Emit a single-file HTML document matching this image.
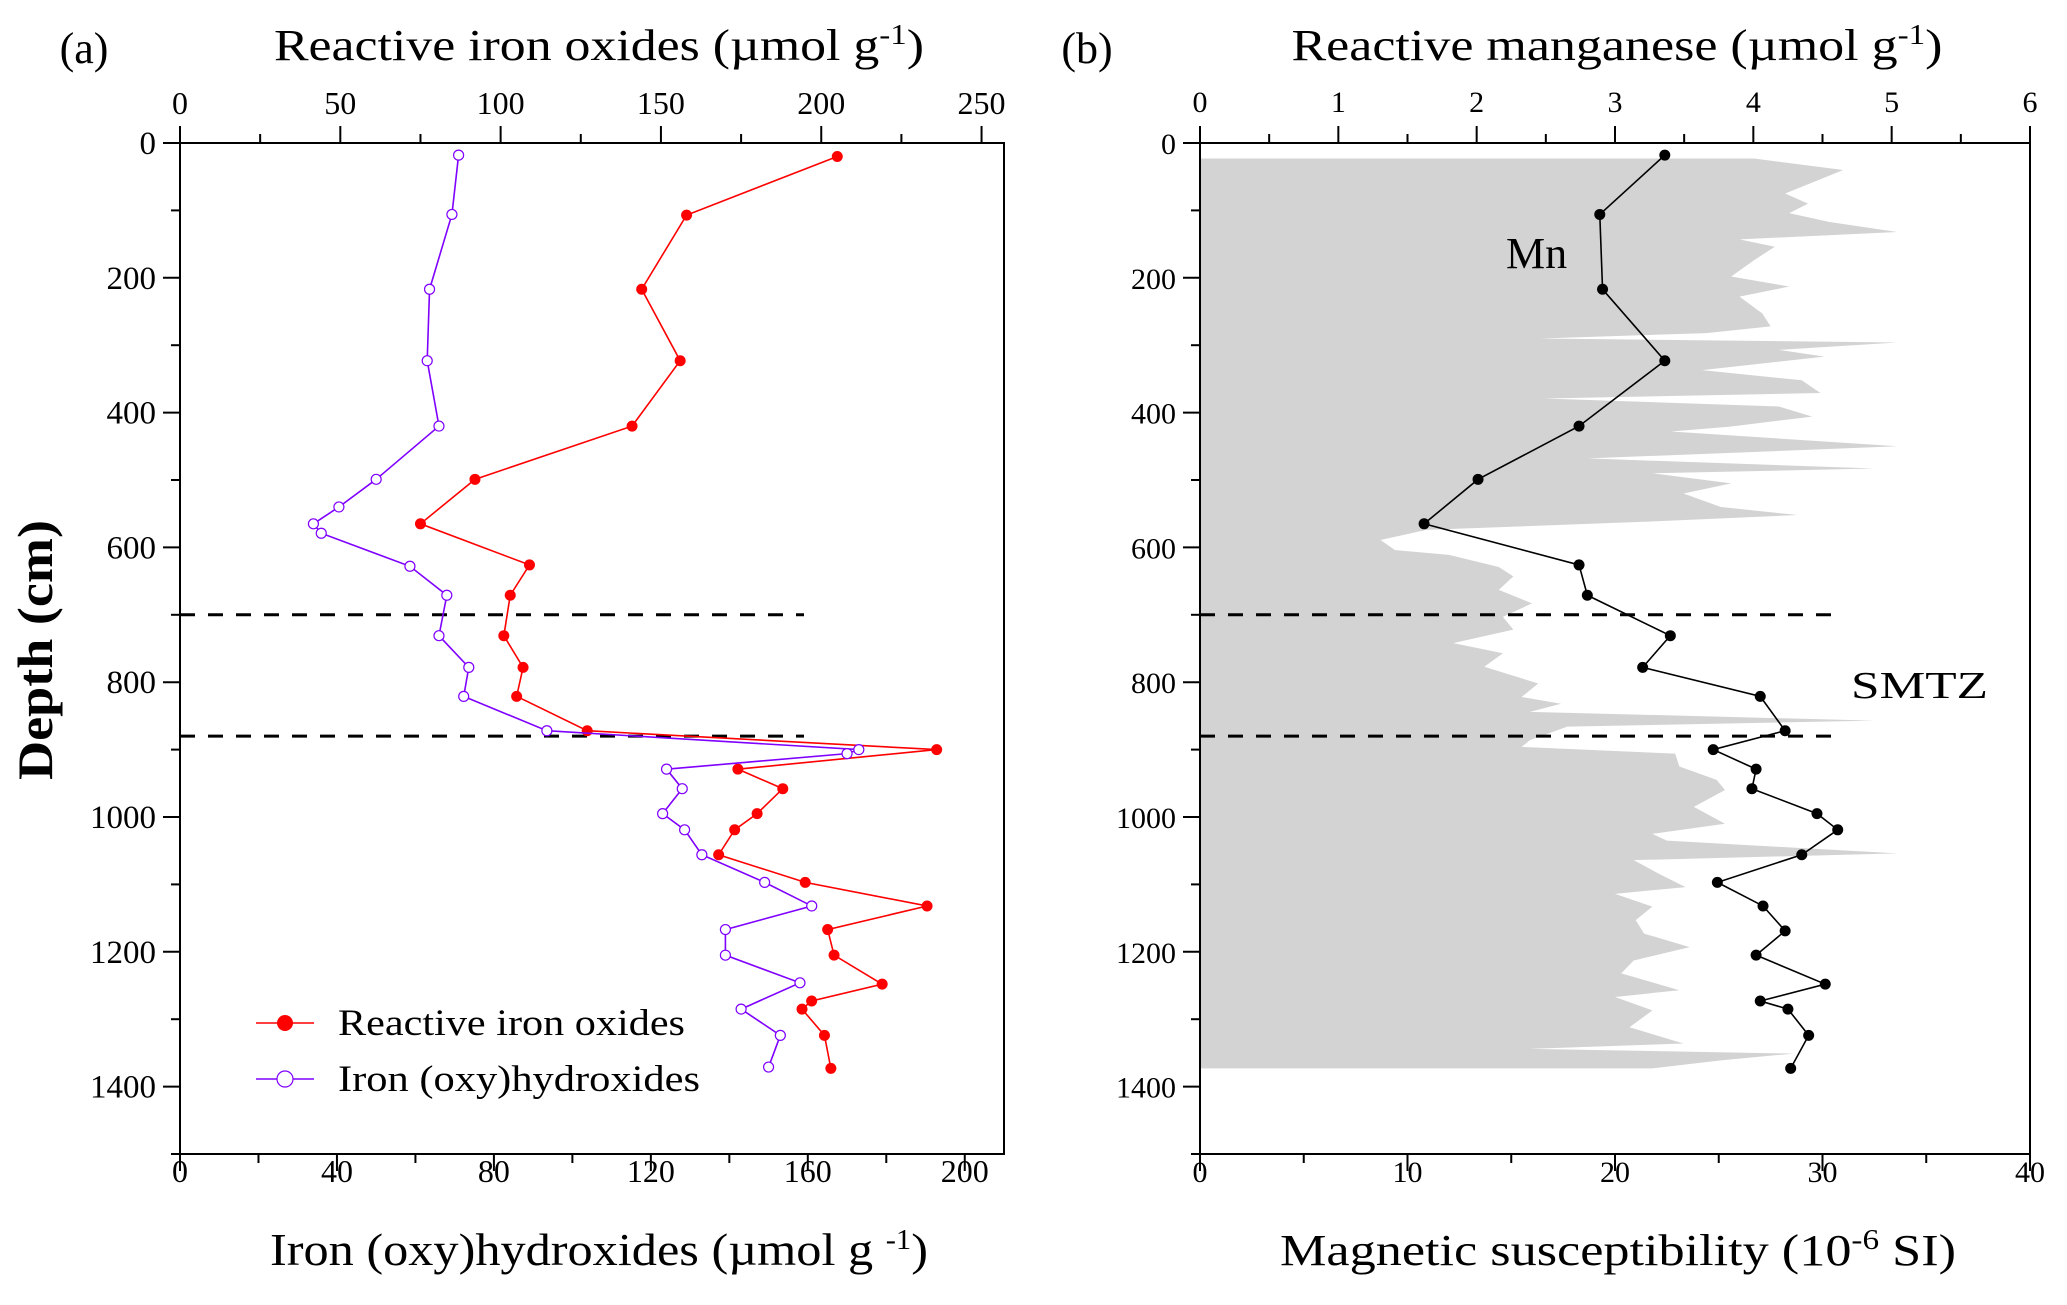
<!DOCTYPE html>
<html><head><meta charset="utf-8">
<style>
html,body{margin:0;padding:0;background:#fff;}
svg{display:block;}
text{font-family:"Liberation Serif",serif;fill:#000;}
</style></head>
<body>
<svg id="chart" width="2067" height="1305" viewBox="0 0 2067 1305" xmlns="http://www.w3.org/2000/svg">
<g id="gA"></g>
<g id="gB"></g>
</svg>
<script>
// ---- data ----
const feDepths = [20,107,217,323,420,499,565,626,671,731,778,821,872,900,929,958,995,1019,1056,1097,1132,1167,1205,1248,1273,1285,1324,1373];
const feValues = [205,158,144,156,141,92,75,109,103,101,107,105,127,236,174,188,180,173,168,195,233,202,204,219,197,194,201,203];
const ohDepths = [18,106,217,323,420,499,540,565,579,628,671,731,778,821,872,900,906,929,958,995,1019,1056,1097,1132,1167,1205,1246,1285,1324,1371];
const ohValues = [71,69.3,63.6,63,66,50,40.5,34,36,58.6,68,66,73.6,72.3,93.5,173,170,124,128,123,128.6,133,149,161,139,139,158,143,153,150];
const mnDepths = [18,106,217,323,420,499,565,626,671,731,778,821,872,900,929,958,995,1019,1056,1097,1132,1169,1205,1248,1273,1285,1324,1373];
const mnValues = [3.36,2.89,2.91,3.36,2.74,2.01,1.62,2.74,2.80,3.40,3.20,4.05,4.23,3.71,4.02,3.99,4.46,4.61,4.35,3.74,4.07,4.23,4.02,4.52,4.05,4.25,4.40,4.27];
const msDepths = [23,40,75,90,104,117,132,143,154,174,198,213,228,253,272,282,290,296,307,317,337,352,371,379,391,406,421,428,450,468,483,490,505,520,540,552,562,574,589,604,611,629,643,663,683,703,722,742,757,777,802,822,832,844,857,866,886,896,906,925,945,960,985,1010,1025,1035,1054,1064,1084,1104,1114,1133,1153,1173,1193,1213,1232,1257,1267,1287,1312,1336,1344,1351,1361,1373];
const msValues = [26.7,31.0,28.2,29.3,28.4,30.3,33.6,26.0,27.7,26.7,25.6,28.4,26.0,27.1,27.5,24.4,16.4,33.6,27.9,30.1,24.2,29.0,29.9,16.6,27.9,29.5,25.5,22.7,33.6,18.7,32.5,21.8,25.6,23.3,25.1,28.8,21.4,10.9,8.7,9.4,12.0,14.4,15.1,14.4,16.0,14.6,15.1,12.2,14.6,13.7,16.3,15.5,17.4,15.9,32.5,17.7,15.9,15.5,22.9,23.1,24.9,25.3,23.8,25.3,21.8,22.5,33.6,20.9,22.1,23.4,20.0,21.8,21.0,21.4,23.6,20.9,20.3,23.1,20.0,21.8,20.7,23.3,15.9,28.6,25.1,21.8];
const smtzDepths = [700,880];
const depthTicks = [0,200,400,600,800,1000,1200,1400];
const feTicks = [0,50,100,150,200,250];
const ohTicks = [0,40,80,120,160,200];
const mnTicks = [0,1,2,3,4,5,6];
const msTicks = [0,10,20,30,40];

// ---- layout ----
const NS="http://www.w3.org/2000/svg";
const TOP=143, BOT=1154, DMAX=1500;
const A={L:180,R:1004}, B={L:1200,R:2030};
const yD = d => TOP + d*(BOT-TOP)/DMAX;
const xFe = v => A.L + v*(A.R-A.L)/257;
const xOh = v => A.L + v*(A.R-A.L)/210;
const xMn = v => B.L + v*(B.R-B.L)/6;
const xMs = v => B.L + v*(B.R-B.L)/40;

function mk(parent, tag, attrs, txt){
  const e=document.createElementNS(NS,tag);
  for(const k in attrs) e.setAttribute(k,attrs[k]);
  if(txt!==undefined) e.textContent=txt;
  parent.appendChild(e); return e;
}
function txt(parent,x,y,s,size,anchor,name,extra){
  const t=mk(parent,'text',Object.assign({x:x,y:y,'font-size':size,'text-anchor':anchor||'middle'},extra||{}),s);
  
  
  return t;
}
function line(parent,x1,y1,x2,y2,w,name,dash){
  const l=mk(parent,'line',{x1:x1,y1:y1,x2:x2,y2:y2,stroke:'#000','stroke-width':w});
  if(dash) l.setAttribute('stroke-dasharray',dash);
  
  
  return l;
}
function depthAxis(g,L,size){
  for(let d=0; d<=1500; d+=100){
    const major = d%200===0;
    line(g,L-(major?17:9),yD(d),L,yD(d),2,'depth-tick');
    if(major && d<=1400) txt(g,L-24,yD(d)+11,String(d),size,'end','depth-tick-label');
  }
}
function seriesLine(g,xs,ys,color,name){
  const p=mk(g,'polyline',{points:xs.map((x,i)=>x+','+ys[i]).join(' '),fill:'none',stroke:color,'stroke-width':1.6});
  
  
}

// ---- panel A ----
const gA=document.getElementById('gA');
txt(gA,84,63,'(a)',44,'middle','panel-a-label');
const ta=txt(gA,599,60,'',44,'middle','top-axis-title-reactive-iron-oxides',{textLength:650,lengthAdjust:'spacingAndGlyphs'});
ta.innerHTML='Reactive iron oxides (µmol g<tspan dy="-16" font-size="28">-1</tspan><tspan dy="16">)</tspan>';
const tb=txt(gA,599,1265,'',46,'middle','bottom-axis-title-iron-oxyhydroxides',{textLength:658,lengthAdjust:'spacingAndGlyphs'});
tb.innerHTML='Iron (oxy)hydroxides (µmol g <tspan dy="-16" font-size="28">-1</tspan><tspan dy="16">)</tspan>';
txt(gA,0,0,'Depth (cm)',50,'middle','y-axis-title-depth',{'font-weight':'bold',transform:'translate(52,650) rotate(-90)',textLength:260,lengthAdjust:'spacingAndGlyphs'});
const fa=mk(gA,'rect',{x:A.L,y:TOP,width:A.R-A.L,height:BOT-TOP,fill:'none',stroke:'#000','stroke-width':2});


depthAxis(gA,A.L,33);
for(let v=0; v<=257; v+=25){
  const major=v%50===0;
  line(gA,xFe(v),TOP-(major?17:9),xFe(v),TOP,2,'top-axis-tick');
}
feTicks.forEach(v=>txt(gA,xFe(v),114,String(v),32,'middle','top-axis-tick-label'));
for(let v=0; v<=210; v+=20){
  const major=v%40===0;
  line(gA,xOh(v),BOT,xOh(v),BOT+(major?17:9),2,'bottom-axis-tick');
}
ohTicks.forEach(v=>txt(gA,xOh(v),1182,String(v),32,'middle','bottom-axis-tick-label'));
smtzDepths.forEach(d=>line(gA,A.L,yD(d),804,yD(d),3,'smtz-boundary-line','15,13'));
seriesLine(gA,feValues.map(xFe),feDepths.map(yD),'#ff0000','reactive-iron-oxides-line');
feValues.forEach((v,i)=>{
  const c=mk(gA,'circle',{cx:xFe(v),cy:yD(feDepths[i]),r:5.5,fill:'#ff0000'});
  
  
});
seriesLine(gA,ohValues.map(xOh),ohDepths.map(yD),'#7f00ff','iron-oxyhydroxides-line');
ohValues.forEach((v,i)=>{
  const c=mk(gA,'circle',{cx:xOh(v),cy:yD(ohDepths[i]),r:5,fill:'#fff',stroke:'#7f00ff','stroke-width':1.2});
  
  
});
const lg=mk(gA,'g',{});


const l1=mk(lg,'line',{x1:256,y1:1023,x2:314,y2:1023,stroke:'#ff0000','stroke-width':1.6});


const c1=mk(lg,'circle',{cx:285,cy:1023,r:8,fill:'#ff0000'});


txt(lg,338,1035,'Reactive iron oxides',37,'start','legend-entry-reactive-iron-oxides',{textLength:347,lengthAdjust:'spacingAndGlyphs'});
const l2=mk(lg,'line',{x1:256,y1:1079,x2:314,y2:1079,stroke:'#7f00ff','stroke-width':1.6});


const c2=mk(lg,'circle',{cx:285,cy:1079,r:8,fill:'#fff',stroke:'#7f00ff','stroke-width':1.2});


txt(lg,338,1091,'Iron (oxy)hydroxides',37,'start','legend-entry-iron-oxyhydroxides',{textLength:362,lengthAdjust:'spacingAndGlyphs'});

// ---- panel B ----
const gB=document.getElementById('gB');
txt(gB,1087,63,'(b)',44,'middle','panel-b-label');
const tc=txt(gB,1617,60,'',44,'middle','top-axis-title-reactive-manganese',{textLength:651,lengthAdjust:'spacingAndGlyphs'});
tc.innerHTML='Reactive manganese (µmol g<tspan dy="-16" font-size="28">-1</tspan><tspan dy="16">)</tspan>';
const td=txt(gB,1618,1265,'',44,'middle','bottom-axis-title-magnetic-susceptibility',{textLength:676,lengthAdjust:'spacingAndGlyphs'});
td.innerHTML='Magnetic susceptibility (10<tspan dy="-16" font-size="28">-6</tspan><tspan dy="16"> SI)</tspan>';
let pts=[[xMs(0),yD(msDepths[0])]];
msValues.forEach((v,i)=>pts.push([xMs(v),yD(msDepths[i])]));
pts.push([xMs(0),yD(msDepths[msDepths.length-1])]);
const area=mk(gB,'polygon',{points:pts.map(p=>p.join(',')).join(' '),fill:'#d3d3d3'});


const fb=mk(gB,'rect',{x:B.L,y:TOP,width:B.R-B.L,height:BOT-TOP,fill:'none',stroke:'#000','stroke-width':2});


depthAxis(gB,B.L,30);
for(let v=0; v<=6.001; v+=0.5){
  const major=Math.abs(v-Math.round(v))<1e-6;
  line(gB,xMn(v),TOP-(major?17:9),xMn(v),TOP,2,'top-axis-tick');
}
mnTicks.forEach(v=>txt(gB,xMn(v),112,String(v),30,'middle','top-axis-tick-label'));
for(let v=0; v<=40; v+=5){
  const major=v%10===0;
  line(gB,xMs(v),BOT,xMs(v),BOT+(major?17:9),2,'bottom-axis-tick');
}
msTicks.forEach(v=>txt(gB,xMs(v),1182,String(v),30,'middle','bottom-axis-tick-label'));
smtzDepths.forEach(d=>line(gB,B.L,yD(d),1834,yD(d),3,'smtz-boundary-line','15,13'));
seriesLine(gB,mnValues.map(xMn),mnDepths.map(yD),'#000','manganese-line');
mnValues.forEach((v,i)=>{
  const c=mk(gB,'circle',{cx:xMn(v),cy:yD(mnDepths[i]),r:5.5,fill:'#000'});
  
  
});
txt(gB,1506,268,'Mn',44,'start','mn-series-label');
txt(gB,1851,698,'SMTZ',38,'start','smtz-label',{textLength:137,lengthAdjust:'spacingAndGlyphs'});
</script>
</body></html>
